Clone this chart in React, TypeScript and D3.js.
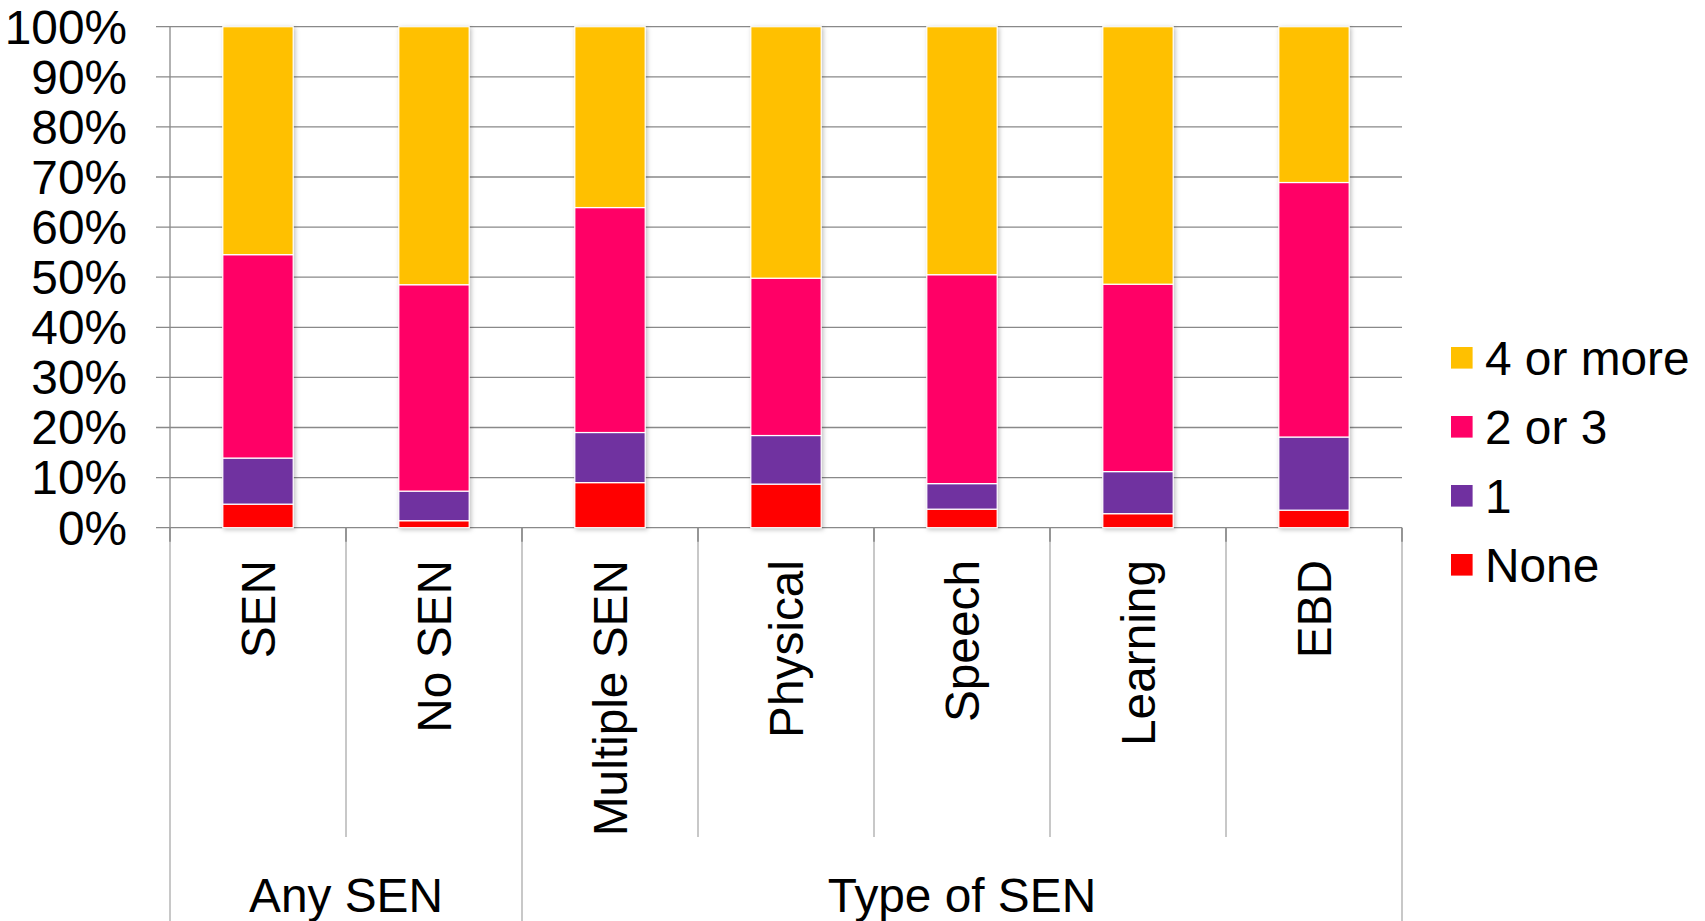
import React from "react";
import * as d3 from "d3";

const categories = ["SEN", "No SEN", "Multiple SEN", "Physical", "Speech", "Learning", "EBD"];
const groups = [
  { label: "Any SEN", from: 0, to: 2 },
  { label: "Type of SEN", from: 2, to: 7 },
];
const seriesNames = ["None", "1", "2 or 3", "4 or more"];
const noneVals = [4.7, 1.4, 9.0, 8.7, 3.7, 2.8, 3.5];
const oneVals = [9.2, 5.9, 10.0, 9.7, 5.1, 8.4, 14.6];
const twoThreeVals = [40.6, 41.2, 44.9, 31.4, 41.7, 37.4, 50.8];
const fourPlusVals = [45.5, 51.5, 36.1, 50.2, 49.5, 51.4, 31.1];
const yTicks = [0, 10, 20, 30, 40, 50, 60, 70, 80, 90, 100];
const colors = ["#FF0000", "#7030A0", "#FF0066", "#FFC000"];

const W = 1705;
const H = 921;
const FONT = "'Liberation Sans', Arial, sans-serif";
const FS = 47.8;

export default function App() {
  const left = 170;
  const right = 1402;
  const top = 26.7;
  const bottom = 527.7;

  const rows = categories.map((c, i) => ({
    cat: c,
    None: noneVals[i],
    "1": oneVals[i],
    "2 or 3": twoThreeVals[i],
    "4 or more": fourPlusVals[i],
  }));
  const stack = d3.stack<any>().keys(seriesNames)(rows);

  const x = d3.scaleBand().domain(categories).range([left, right]).paddingInner(0.6).paddingOuter(0.3);
  const y = d3.scaleLinear().domain([0, 100]).range([bottom, top]);
  const step = x.step();
  const gridColor = "#898989";
  const sepColor = "#a3a3a3";

  const boundaries = d3.range(categories.length + 1).map((i) => left + i * step);
  const groupEdges = new Set<number>();
  groups.forEach((g) => {
    groupEdges.add(g.from);
    groupEdges.add(g.to);
  });

  const legendItems = [...seriesNames].reverse();

  return (
    <svg
      width={W}
      height={H}
      style={{ position: "absolute", left: 0, top: 0, background: "#fff" }}
      fontFamily={FONT}
    >
      <defs>
        <filter id="sh" x="-20%" y="-5%" width="140%" height="110%">
          <feDropShadow dx="1.5" dy="1.5" stdDeviation="2" floodColor="#000" floodOpacity="0.25" />
        </filter>
      </defs>
      <rect x={0} y={0} width={W} height={H} fill="#fff" />
      {yTicks.map((t) => (
        <line key={"g" + t} x1={156} x2={right} y1={y(t)} y2={y(t)} stroke={gridColor} strokeWidth={1.3} />
      ))}
      <line x1={left} x2={left} y1={top} y2={bottom} stroke={gridColor} strokeWidth={1.3} />
      {yTicks.map((t) => (
        <text key={"yl" + t} x={127} y={y(t) + 16.8} textAnchor="end" fontSize={FS} fill="#000">
          {t + "%"}
        </text>
      ))}
      {boundaries.map((bx, i) => {
        const isGroup = groupEdges.has(i);
        return (
          <g key={"sep" + i}>
            <line x1={bx} x2={bx} y1={bottom} y2={isGroup ? H : 837} stroke={sepColor} strokeWidth={1.2} />
            <line x1={bx} x2={bx} y1={bottom} y2={bottom + 14} stroke={gridColor} strokeWidth={1.6} />
          </g>
        );
      })}
      <g filter="url(#sh)">
        {stack.map((s, si) =>
          s.map((d: any, i: number) => (
            <rect
              key={si + "-" + i}
              x={x(categories[i])!}
              y={y(d[1])}
              width={x.bandwidth()}
              height={y(d[0]) - y(d[1])}
              fill={colors[si]}
              stroke="#fff"
              strokeWidth={1.2}
            />
          ))
        )}
      </g>
      {categories.map((c) => {
        const cx = x(c)! + x.bandwidth() / 2 + 17;
        return (
          <text
            key={"cl" + c}
            transform={`translate(${cx},560) rotate(-90)`}
            textAnchor="end"
            fontSize={FS}
            fill="#000"
          >
            {c}
          </text>
        );
      })}
      {groups.map((g) => (
        <text
          key={"gl" + g.label}
          x={(boundaries[g.from] + boundaries[g.to]) / 2}
          y={911.5}
          textAnchor="middle"
          fontSize={FS}
          fill="#000"
        >
          {g.label}
        </text>
      ))}
      {legendItems.map((name, i) => {
        const ci = seriesNames.indexOf(name);
        const ly = 347 + i * 69;
        return (
          <g key={"lg" + name}>
            <rect x={1451} y={ly} width={21.6} height={21.6} fill={colors[ci]} />
            <text x={1485} y={ly + 28} fontSize={FS} fill="#000">
              {name}
            </text>
          </g>
        );
      })}
    </svg>
  );
}
